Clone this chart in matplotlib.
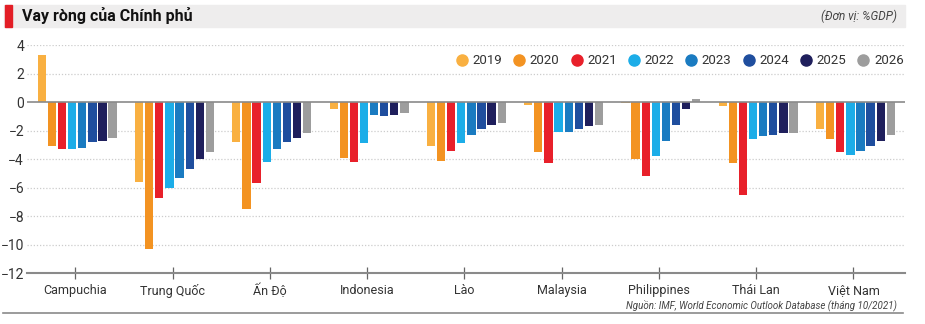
import matplotlib
matplotlib.use("Agg")
import matplotlib.pyplot as plt
from matplotlib.lines import Line2D
from matplotlib.patches import Rectangle

# Data (% GDP)
countries = ["Campuchia", "Trung Quốc", "Ấn Độ", "Indonesia", "Lào",
             "Malaysia", "Philippines", "Thái Lan", "Việt Nam"]
years = ["2019", "2020", "2021", "2022", "2023", "2024", "2025", "2026"]
colors = ["#F9B041", "#F39322", "#E8202A", "#1CADE8",
          "#1A7BC1", "#1F4E9E", "#1F1F5C", "#9D9D9D"]

v2019 = [3.3, -5.6, -2.8, -0.5, -3.1, -0.2, -0.05, -0.3, -1.9]
v2020 = [-3.1, -10.3, -7.5, -3.9, -4.1, -3.5, -4.0, -4.3, -2.6]
v2021 = [-3.3, -6.7, -5.7, -4.2, -3.4, -4.3, -5.2, -6.5, -3.5]
v2022 = [-3.3, -6.0, -4.2, -2.9, -2.9, -2.1, -3.8, -2.6, -3.7]
v2023 = [-3.2, -5.3, -3.3, -0.9, -2.3, -2.1, -2.7, -2.4, -3.4]
v2024 = [-2.8, -4.7, -2.8, -1.0, -1.9, -1.9, -1.6, -2.3, -3.1]
v2025 = [-2.7, -4.0, -2.5, -0.9, -1.6, -1.7, -0.5, -2.2, -2.7]
v2026 = [-2.5, -3.5, -2.2, -0.8, -1.5, -1.6, 0.2, -2.2, -2.3]
series = [v2019, v2020, v2021, v2022, v2023, v2024, v2025, v2026]

plt.rcParams["font.family"] = ["Roboto", "DejaVu Sans"]

fig = plt.figure(figsize=(9.25, 3.24), dpi=100)
ax = fig.add_axes([0.029, 0.157, 0.949, 0.704])

x = range(len(countries))
pitch = 0.104
for i, vals in enumerate(series):
    pos = [c + (i - 3.5) * pitch + 0.02 for c in x]
    ax.bar(pos, vals, width=0.085, color=colors[i], zorder=3)

ax.set_xlim(-0.498, 8.526)
ax.set_ylim(-12, 4)
ax.set_yticks(range(-12, 5, 2))
for yv in range(-10, 5, 2):
    if yv == 0:
        ax.axhline(0, color="#8a8a8a", lw=1.2, zorder=4)
    else:
        ax.axhline(yv, color="#cccccc", lw=0.9, ls=(0, (1, 1.5)), zorder=1)

for s in ["top", "right", "left"]:
    ax.spines[s].set_visible(False)
ax.spines["bottom"].set_color("#8a8a8a")
ax.spines["bottom"].set_linewidth(1.5)
ax.set_xticks(list(x))
ax.set_xticklabels(countries, fontsize=9, color="#333333")
ax.tick_params(axis="x", direction="inout", length=9, width=0.9, color="#666666", pad=3)
ax.tick_params(axis="y", length=0, labelsize=10, labelcolor="#333333", pad=2)

handles = [Line2D([], [], marker="o", ls="", markersize=8, color=c) for c in colors]
fig.legend(handles, years, loc="center right", bbox_to_anchor=(0.977, 0.812), ncol=8,
           frameon=False, fontsize=9.5, handletextpad=0.3, columnspacing=0.8,
           labelcolor="#333333", handlelength=1.0, borderpad=0, borderaxespad=0)

# header band
fig.patches.append(Rectangle((0.004, 0.917), 0.974, 0.068, transform=fig.transFigure,
                             color="#EEEDED", zorder=0))
fig.patches.append(Rectangle((0.005, 0.917), 0.008, 0.068, transform=fig.transFigure,
                             color="#E31E26", zorder=1))
fig.text(0.024, 0.951, "Vay ròng của Chính phủ", fontsize=11.5, fontweight="bold",
         va="center", ha="left", color="#111111")
fig.text(0.970, 0.951, "(Đơn vị: %GDP)", fontsize=8.5, style="italic",
         va="center", ha="right", color="#444444")

fig.text(0.970, 0.056, "Nguồn: IMF, World Economic Outlook Database (tháng 10/2021)",
         fontsize=7, style="italic", va="center", ha="right", color="#444444")
fig.add_artist(Line2D([0.003, 0.976], [0.034, 0.034], transform=fig.transFigure,
                      color="#8a8a8a", lw=1.2))

fig.savefig("out.png", dpi=100)
